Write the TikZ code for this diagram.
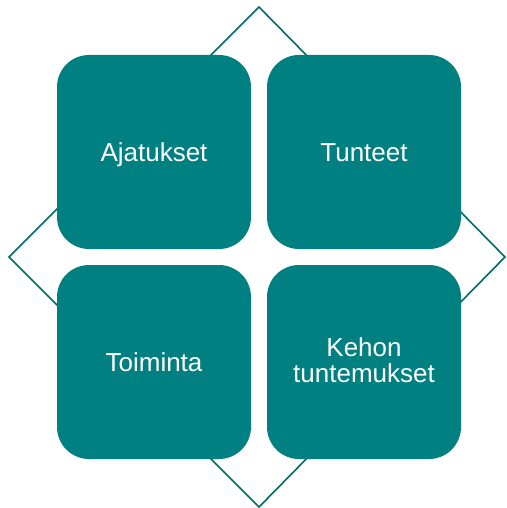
\documentclass[tikz,border=0pt]{standalone}
\usepackage{fontspec}
\setmainfont{Liberation Sans}
\definecolor{teal1}{HTML}{008080}
\definecolor{teal2}{HTML}{006B6B}
\begin{document}
\begin{tikzpicture}[x=1pt,y=-1pt,
  petal/.style={fill=teal1, draw=none, rounded corners=32pt, minimum width=194pt, minimum height=194pt, inner sep=0pt},
  txt/.style={text=white, inner sep=0pt, anchor=base, font=\fontsize{26}{28}\selectfont}]
\useasboundingbox (0,0) rectangle (506,508);
\coordinate (t) at (259,7);
\coordinate (r) at (505,257);
\coordinate (b) at (259,507);
\coordinate (l) at (9,257);
\draw[teal2, line width=1.6pt, line join=miter] (t) -- (r) -- (b) -- (l) -- cycle;
\node[petal] (a) at (154,152) {};
\node[petal] (tu) at (364,152) {};
\node[petal] (to) at (154,362) {};
\node[petal] (k) at (364,362) {};
\node[txt] (a1) at (154,161) {Ajatukset};
\node[txt] (tu1) at (364,161) {Tunteet};
\node[txt] (to1) at (154,371) {Toiminta};
\node[txt] (k1) at (364,356) {Kehon};
\node[txt] (k2) at (364,382) {tuntemukset};
\end{tikzpicture}
\end{document}
